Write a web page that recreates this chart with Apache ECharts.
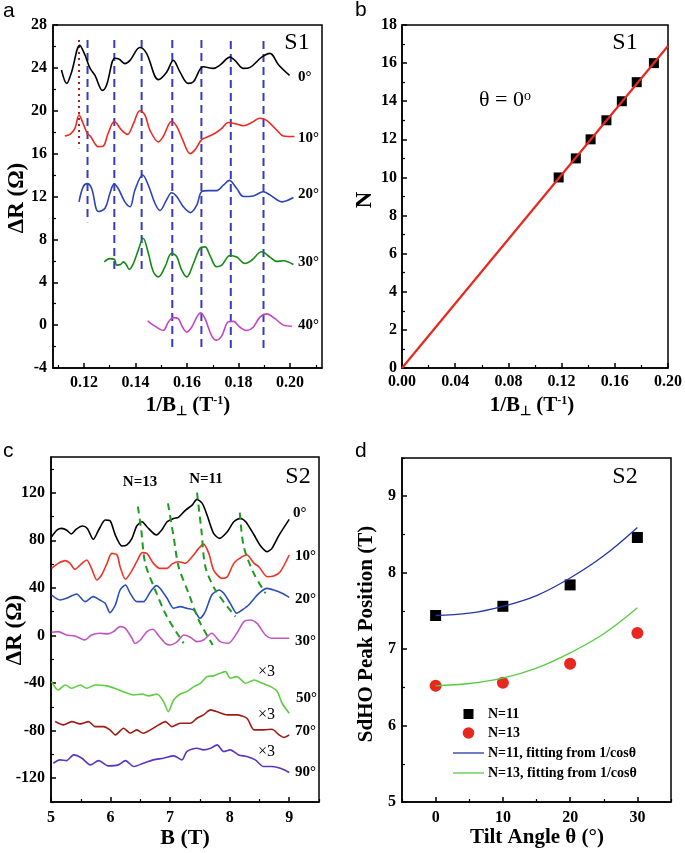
<!DOCTYPE html>
<html><head><meta charset="utf-8">
<script src="https://cdn.jsdelivr.net/npm/echarts@6/dist/echarts.min.js"></script>
<style>html,body{margin:0;padding:0;background:#fff}#c{width:685px;height:853px}</style>
</head><body><div id="c"></div><script>
// ---------- Panel a data: ΔR vs 1/B (S1) ----------
const a0 = [[0.1113,23.8],[0.1133,22.55],[0.1152,23.6],[0.1184,26.1],[0.1204,25.2],[0.1223,24.0],[0.1243,23.3],[0.1272,21.9],[0.1288,22.4],[0.1320,24.9],[0.1337,24.8],[0.1359,24.4],[0.1379,24.7],[0.1417,25.9],[0.1443,25.35],[0.1489,22.9],[0.1521,23.6],[0.1547,24.7],[0.1573,23.6],[0.1605,22.55],[0.1625,22.7],[0.1663,24.1],[0.1702,23.95],[0.1728,24.25],[0.1767,25.0],[0.1786,24.7],[0.1819,23.95],[0.1845,24.05],[0.1890,25.0],[0.1922,25.35],[0.1955,24.3],[0.1998,23.3]];
const a10 = [[0.1126,17.65],[0.1146,17.8],[0.1165,18.35],[0.1181,19.6],[0.1197,18.8],[0.1213,17.9],[0.1226,17.6],[0.1256,16.65],[0.1275,16.7],[0.1294,17.9],[0.1318,19.0],[0.1346,18.2],[0.1369,17.8],[0.1392,18.8],[0.1417,20.0],[0.1437,19.6],[0.1456,18.2],[0.1489,17.1],[0.1508,17.6],[0.1540,19.0],[0.1560,18.55],[0.1583,17.3],[0.1612,16.0],[0.1631,16.35],[0.1657,17.3],[0.1683,17.6],[0.1709,17.9],[0.1735,18.35],[0.1760,18.9],[0.1786,18.8],[0.1819,18.6],[0.1851,18.9],[0.1883,19.3],[0.1909,19.1],[0.1948,18.2],[0.1974,17.65],[0.2017,17.6]];
const a20 = [[0.1181,11.5],[0.1197,12.9],[0.1213,13.2],[0.1230,12.75],[0.1256,10.6],[0.1282,10.9],[0.1301,12.3],[0.1317,13.15],[0.1333,12.75],[0.1359,11.5],[0.1379,11.05],[0.1398,12.6],[0.1428,14.0],[0.1450,13.05],[0.1476,11.35],[0.1495,10.7],[0.1521,11.7],[0.1540,12.35],[0.1560,12.0],[0.1586,11.05],[0.1614,10.5],[0.1638,11.2],[0.1657,12.45],[0.1683,12.55],[0.1715,12.55],[0.1741,13.05],[0.1764,13.5],[0.1793,12.75],[0.1819,12.0],[0.1857,12.05],[0.1896,12.45],[0.1922,12.15],[0.1968,11.5],[0.2013,11.9]];
const a30 = [[0.1279,5.9],[0.1301,6.2],[0.1318,6.15],[0.1327,5.6],[0.1342,5.65],[0.1353,5.9],[0.1363,5.7],[0.1376,5.2],[0.1392,5.75],[0.1411,7.0],[0.1430,8.1],[0.1450,6.7],[0.1469,5.0],[0.1489,4.5],[0.1515,5.45],[0.1540,6.7],[0.1560,6.4],[0.1579,5.15],[0.1599,4.5],[0.1625,5.75],[0.1650,7.15],[0.1670,7.3],[0.1689,6.5],[0.1715,5.45],[0.1735,5.6],[0.1767,6.5],[0.1793,6.35],[0.1825,5.75],[0.1851,6.05],[0.1890,6.85],[0.1922,6.35],[0.1948,5.95],[0.1974,6.0],[0.2013,5.65]];
const a40 = [[0.1447,0.4],[0.1469,0.0],[0.1489,-0.3],[0.1508,-0.5],[0.1528,0.3],[0.1547,0.7],[0.1566,0.6],[0.1583,-0.2],[0.1599,-0.65],[0.1618,-0.2],[0.1638,0.75],[0.1653,1.15],[0.1670,0.6],[0.1696,-1.0],[0.1715,-1.4],[0.1735,-1.0],[0.1760,0.3],[0.1780,0.35],[0.1806,-0.2],[0.1832,-0.5],[0.1857,-0.2],[0.1883,0.75],[0.1909,1.05],[0.1942,0.6],[0.1974,0.0],[0.2007,-0.1]];
const aDashX = [0.1214,0.1318,0.1424,0.1543,0.1656,0.1770,0.1897];
const aDashTop = [26.6,26.6,26.6,26.6,26.6,26.5,26.5];
const aDashBottom = [9.6,4.8,4.8,-2.2,-2.2,-2.2,-2.2];
const aDotX = 0.1181, aDotTop = 26.6, aDotBottom = 16.5;
const aAngles = ['0°','10°','20°','30°','40°'];

// ---------- Panel b data: Landau level N vs 1/B ----------
const bInvB = [0.1178,0.1307,0.1418,0.1537,0.1653,0.1765,0.1894];
const bN = [10,11,12,13,14,15,16];
const bFit = [[0,0],[0.2,16.9]];

// ---------- Panel c data: ΔR vs B (S2) ----------
const c0 = [[5.01,83],[5.10,88.6],[5.18,90],[5.26,88.6],[5.34,85.3],[5.42,89.2],[5.53,92],[5.61,90],[5.71,80.8],[5.80,88.6],[5.91,97],[5.99,96.5],[6.08,84.4],[6.19,75.2],[6.27,76],[6.36,81.6],[6.44,92],[6.53,95.6],[6.61,91.4],[6.77,84.4],[6.86,88.6],[6.95,95.6],[7.06,98.4],[7.14,99.3],[7.26,105.4],[7.37,109.6],[7.45,114.4],[7.54,111],[7.62,101.2],[7.73,85.8],[7.83,81.6],[7.96,87.2],[8.07,95.6],[8.18,98.4],[8.27,95.6],[8.41,84.4],[8.52,75.2],[8.63,70.4],[8.71,73.2],[8.83,84.4],[9.0,97.6]];
const c10 = [[5.01,56.4],[5.12,60.6],[5.24,62.9],[5.32,60.6],[5.40,55.6],[5.52,60.6],[5.60,63.4],[5.68,56.4],[5.77,46.6],[5.85,50.8],[5.94,60.6],[6.02,69],[6.11,67.6],[6.16,57.8],[6.25,47.2],[6.33,52.2],[6.44,62],[6.53,69.6],[6.61,69],[6.72,60.6],[6.83,56.4],[6.95,56.4],[7.03,60],[7.14,62],[7.25,60.6],[7.37,66.2],[7.48,73.2],[7.56,76.8],[7.65,69],[7.73,55],[7.87,48],[7.96,49.4],[8.07,60.6],[8.21,66.2],[8.29,67.6],[8.41,60.6],[8.49,57.8],[8.63,49.4],[8.74,50],[8.85,53.6],[9.0,67.6]];
const c20 = [[5.01,34],[5.15,29.8],[5.26,31.2],[5.43,34.9],[5.57,28.4],[5.71,32.6],[5.82,29.8],[5.91,27],[5.99,19.2],[6.08,25.6],[6.16,38.2],[6.25,42.4],[6.33,35.4],[6.44,28.4],[6.55,28.4],[6.67,36.8],[6.77,41.9],[6.83,39.6],[6.95,31.2],[7.06,22.8],[7.17,24.2],[7.28,22.8],[7.40,21.4],[7.50,14.4],[7.59,20],[7.70,34],[7.82,38.2],[7.90,35.4],[8.01,27],[8.12,18.6],[8.21,21.4],[8.32,25.6],[8.49,35.4],[8.63,39.6],[8.74,38.2],[8.88,35.4],[9.0,32]];
const c30 = [[5.01,2.7],[5.12,3.2],[5.26,0.4],[5.40,-0.4],[5.57,-3.8],[5.68,0.4],[5.82,1.8],[5.96,1.3],[6.05,3.2],[6.16,7.4],[6.25,6],[6.36,-2.4],[6.41,-6.6],[6.50,-3.8],[6.61,3.2],[6.71,5.2],[6.81,-0.4],[6.92,-6.6],[7.00,-8],[7.12,-5.2],[7.23,0.4],[7.34,-1.5],[7.45,-5.2],[7.56,-3.8],[7.70,1.8],[7.84,-5.2],[7.98,-6.6],[8.12,1.8],[8.24,11.6],[8.35,13],[8.46,10.2],[8.60,0.4],[8.71,-2.4],[8.85,-2.4],[9.0,-2.4]];
const c50 = [[5.01,-38.8],[5.12,-45.8],[5.24,-41.6],[5.35,-44.4],[5.49,-41.6],[5.60,-44.4],[5.74,-41.6],[5.94,-42.4],[6.11,-45.2],[6.25,-48],[6.39,-50],[6.53,-49.2],[6.64,-50.8],[6.78,-49.2],[6.89,-55.6],[6.97,-64],[7.06,-54.2],[7.17,-49.2],[7.28,-47.2],[7.40,-43],[7.51,-40.2],[7.62,-34.6],[7.73,-34],[7.84,-31.8],[7.93,-30.4],[8.01,-36],[8.12,-34.6],[8.27,-40.2],[8.41,-37.4],[8.55,-40.2],[8.69,-43],[8.80,-47.2],[8.88,-57],[9.0,-65.4]];
const c70 = [[5.07,-72.4],[5.21,-75.2],[5.35,-72.4],[5.49,-74.3],[5.63,-72.4],[5.74,-76.6],[5.88,-76.6],[5.99,-79.4],[6.08,-83.6],[6.22,-78],[6.33,-82.2],[6.44,-79.4],[6.55,-82.2],[6.67,-79.4],[6.81,-75.2],[6.92,-72.4],[7.03,-76.6],[7.17,-73.8],[7.34,-73.8],[7.45,-69.6],[7.56,-66.8],[7.68,-62.6],[7.82,-64.8],[7.96,-66.8],[8.12,-66.8],[8.29,-69.6],[8.41,-79.4],[8.57,-79.4],[8.71,-78.8],[8.83,-83.6],[8.91,-85.8],[9.0,-83.6]];
const c90 = [[5.04,-107.4],[5.15,-104.6],[5.26,-105.2],[5.38,-100.4],[5.52,-103.2],[5.66,-108.8],[5.80,-105.2],[5.96,-109.6],[6.13,-108.8],[6.25,-105.2],[6.39,-110.2],[6.55,-107.4],[6.72,-104.6],[6.89,-103.2],[7.06,-101.2],[7.20,-104.6],[7.28,-97.6],[7.45,-94.8],[7.56,-96.2],[7.68,-94.8],[7.79,-92],[7.90,-97.6],[8.01,-96.2],[8.15,-100.4],[8.29,-101.8],[8.43,-104.6],[8.57,-110.2],[8.71,-110.2],[8.85,-111.6],[9.0,-115.2]];
const cGuideA = [[6.459,108.2],[6.515,88.6],[6.582,60.6],[6.750,38.2],[6.947,15.8],[7.227,-6.6]];
const cGuideB = [[6.964,111.0],[7.059,83.0],[7.143,57.8],[7.311,35.4],[7.480,13.0],[7.715,-8.0]];
const cGuideC = [[7.452,120],[7.525,88.6],[7.592,57.8],[7.760,38.2],[8.097,15.8]];
const cGuideD = [[8.170,103.2],[8.237,74.6],[8.405,52.2],[8.602,35.4]];

// ---------- Panel d data: SdHO peak position vs tilt angle ----------
const dAngle = [0,10,20,30];
const dN11 = [7.44,7.56,7.84,8.46];
const dN13 = [6.52,6.56,6.81,7.21];
const dFitAngle = [0,5,10,15,20,25,30];
const dFit11 = [7.44,7.47,7.56,7.70,7.93,8.22,8.59];
const dFit13 = [6.52,6.55,6.62,6.75,6.95,7.20,7.54];

// ---------- helpers ----------
const SERIF = '"Liberation Serif","Times New Roman",serif';
const SANS = '"Liberation Sans",Arial,sans-serif';
const range = (a,b,s) => { const r=[]; for(let v=a; v<=b+1e-9; v+=s) r.push(+v.toFixed(6)); return r; };
const zip = (xs, ys) => xs.map((x,i)=>[x, ys[i]]);

function axisPair(dim, gi, min, max, major, minor, labels, fmt, margin){
  const base = {type:'value', gridIndex:gi, min, max, position: dim==='x'?'bottom':'left', splitLine:{show:false}, silent:true};
  const main = Object.assign({}, base, {
    axisLine:{show:true, onZero:false, lineStyle:{color:'#000', width:1.5}},
    axisTick:{show:true, inside:true, length:5, customValues:major, lineStyle:{color:'#000', width:1.5}},
    axisLabel:{show:true, customValues:labels, formatter:fmt, margin, color:'#000', fontFamily:SERIF, fontWeight:'bold', fontSize:16}
  });
  const sec = Object.assign({}, base, {
    axisLine:{show:false, onZero:false},
    axisTick:{show:true, inside:true, length:3, customValues:minor, lineStyle:{color:'#000', width:1.2}},
    axisLabel:{show:false}
  });
  return [main, sec];
}
const f2 = v => v.toFixed(2);
const f0 = v => String(Math.round(v));

const xAxes = [].concat(
  axisPair('x',0,0.108,0.2124,range(0.12,0.20,0.02),range(0.11,0.21,0.02),range(0.12,0.20,0.02),f2,7),
  axisPair('x',1,0,0.2,range(0,0.20,0.04),range(0.02,0.18,0.04),range(0,0.20,0.04),f2,6),
  axisPair('x',2,5,9.5,range(5,9,1),range(5.5,9.5,1),range(5,9,1),f0,8),
  axisPair('x',3,-5,35,range(0,30,10),range(-5,35,10),range(0,30,10),f0,8)
);
const yAxes = [].concat(
  axisPair('y',0,-4,28,range(-4,28,4),range(-2,26,4),range(-4,28,4),f0,6),
  axisPair('y',1,0,18,range(0,18,2),range(1,17,2),range(0,18,2),f0,5),
  axisPair('y',2,-140,150,range(-120,120,40),range(-140,140,40),range(-120,120,40),f0,6),
  axisPair('y',3,5,9.5,range(5,9,1),range(5.5,9.5,1),range(5,9,1),f0,6)
);

function line(gi, data, color, width, dash, smooth, z){
  return {type:'line', xAxisIndex:2*gi, yAxisIndex:2*gi, data, symbol:'none', showSymbol:false,
    smooth: smooth===undefined?0:smooth, lineStyle:{color, width, type: dash||'solid', opacity:1}, z: z||2, silent:true, animation:false};
}
function scatter(gi, data, symbol, size, color){
  return {type:'scatter', xAxisIndex:2*gi, yAxisIndex:2*gi, data, symbol, symbolSize:size, itemStyle:{color, opacity:1, borderWidth:0}, z:3, silent:true, animation:false};
}

const series = [];
// panel a
const aCols = ['#000000','#ee2a20','#2b45b5','#138a13','#c544c5'];
[a0,a10,a20,a30,a40].forEach((d,i)=>series.push(line(0,d,aCols[i],1.6,'solid',0.35,3)));
aDashX.forEach((x,i)=>series.push(line(0,[[x,aDashTop[i]],[x,aDashBottom[i]]],'#3b3bb8',2,[8,5],0,2)));
series.push(line(0,[[aDotX,aDotTop],[aDotX,aDotBottom]],'#9a2424',2,[2,4],0,2));
// panel b
series.push(scatter(1, zip(bInvB,bN), 'rect', 10, '#000'));
series.push(line(1, bFit, '#e8281e', 2.2, 'solid', 0, 4));
// panel c
const cCols = ['#000000','#ee3328','#2d4fb5','#c255c5','#5fcd40','#9c1c12','#5a35c4'];
[c0,c10,c20,c30,c50,c70,c90].forEach((d,i)=>series.push(line(2,d,cCols[i],1.6,'solid',0.25,3)));
[cGuideA,cGuideB,cGuideC,cGuideD].forEach(d=>series.push(line(2,d,'#1f9a1f',2,[7,5],0.3,4)));
// panel d
series.push(scatter(3, zip(dAngle,dN11), 'rect', 11, '#000'));
series.push(scatter(3, zip(dAngle,dN13), 'circle', 12, '#e8281e'));
series.push(line(3, zip(dFitAngle,dFit11), '#2536a8', 1.3, 'solid', 0.4, 4));
series.push(line(3, zip(dFitAngle,dFit13), '#55cc40', 1.3, 'solid', 0.4, 4));

// ---------- texts ----------
function T(x,y,text,size,o){
  o = o||{};
  return {type:'text', x, y, rotation:o.rot||0, z:100, silent:true,
    style:{text, fill:'#000', fontFamily:o.fam||SERIF, fontSize:size, fontWeight:o.w||'bold',
      align:o.align||'center', textAlign:o.align||'center', verticalAlign:'middle', textVerticalAlign:'middle', rich:o.rich}};
}
const invBRich = {
  m:{fontFamily:SERIF, fontWeight:'bold', fontSize:21, lineHeight:22, verticalAlign:'top'},
  sub:{fontFamily:SERIF, fontWeight:'bold', fontSize:13, lineHeight:13, padding:[10,0,0,0], verticalAlign:'top'},
  sup:{fontFamily:SERIF, fontWeight:'bold', fontSize:12, lineHeight:12, verticalAlign:'top'}
};
const invBText = '{m|1/B}{sub|⊥}{m| (T}{sup|-1}{m|)}';
const graphics = [
  T(3,11,'a',21,{fam:SANS,w:'normal',align:'left'}),
  T(355,10,'b',21,{fam:SANS,w:'normal',align:'left'}),
  T(3,451,'c',21,{fam:SANS,w:'normal',align:'left'}),
  T(355,451,'d',21,{fam:SANS,w:'normal',align:'left'}),
  // axis titles
  T(17,198,'ΔR (Ω)',23,{rot:Math.PI/2}),
  T(188,406,invBText,21,{rich:invBRich}),
  T(365,200,'N',23,{rot:Math.PI/2}),
  T(532,406,invBText,21,{rich:invBRich}),
  T(15,630,'ΔR (Ω)',23,{rot:Math.PI/2}),
  T(185,838,'B (T)',22),
  T(367,634,'SdHO Peak Position (T)',21,{rot:Math.PI/2}),
  T(537,838,'Tilt Angle θ (°)',21),
  // sample labels
  T(297,43,'S1',24,{w:'normal'}),
  T(625,43,'S1',24,{w:'normal'}),
  T(298,477,'S2',24,{w:'normal'}),
  T(625,477,'S2',24,{w:'normal'}),
  T(505,100,'{m|θ = 0}{s|o}',22,{w:'normal',rich:{m:{fontFamily:SERIF,fontSize:22,lineHeight:22,verticalAlign:'top'},s:{fontFamily:SERIF,fontSize:14,lineHeight:14,verticalAlign:'top'}}}),
  T(140,482,'N=13',15),
  T(206,479,'N=11',15),
  T(258,672,'×3',16,{w:'normal',align:'left'}),
  T(258,715,'×3',16,{w:'normal',align:'left'}),
  T(258,752,'×3',16,{w:'normal',align:'left'})
];
const aLabY = [77,138,194,262,325];
aAngles.forEach((t,i)=>graphics.push(T(298,aLabY[i],t,15,{align:'left'})));
const cAngles = ['0°','10°','20°','30°','50°','70°','90°'];
const cLabX = [293,295,295,295,296,295,295];
const cLabY = [513,556,599,641,698,731,772];
cAngles.forEach((t,i)=>graphics.push(T(cLabX[i],cLabY[i],t,15,{align:'left'})));
// legend of panel d
graphics.push({type:'rect', shape:{x:463.5,y:709,width:10,height:10}, style:{fill:'#000'}, z:100, silent:true});
graphics.push({type:'circle', shape:{cx:468.5,cy:733,r:5.8}, style:{fill:'#e8281e'}, z:100, silent:true});
graphics.push({type:'line', shape:{x1:453,y1:753,x2:484,y2:753}, style:{stroke:'#2536a8',lineWidth:1.3}, z:100, silent:true});
graphics.push({type:'line', shape:{x1:453,y1:773,x2:484,y2:773}, style:{stroke:'#55cc40',lineWidth:1.3}, z:100, silent:true});
const legTexts = ['N=11','N=13','N=11, fitting from 1/cosθ','N=13, fitting from 1/cosθ'];
const legY = [714,733,753,773];
legTexts.forEach((t,i)=>graphics.push(T(488,legY[i],t,14,{align:'left'})));

const gridStyle = {show:true, borderColor:'#000', borderWidth:1.5, containLabel:false, backgroundColor:'transparent'};
const option = {
  animation:false,
  backgroundColor:'#fff',
  grid:[
    Object.assign({left:53, top:25, width:269, height:343}, gridStyle),
    Object.assign({left:402, top:25, width:270, height:343}, gridStyle),
    Object.assign({left:51, top:457, width:268, height:345}, gridStyle),
    Object.assign({left:402, top:458, width:269, height:344}, gridStyle)
  ],
  xAxis: xAxes,
  yAxis: yAxes,
  series,
  graphic: graphics
};
const chart = echarts.init(document.getElementById('c'), null, {renderer:'canvas'});
chart.setOption(option);
</script></body></html>
